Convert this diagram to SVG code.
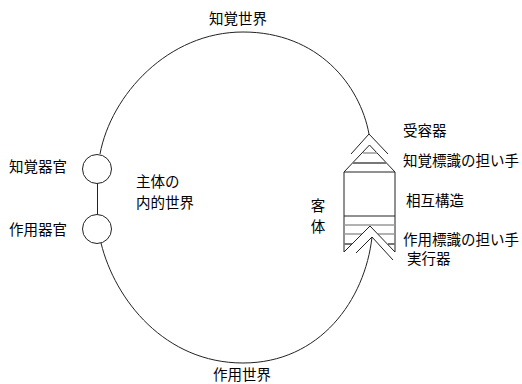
<svg xmlns="http://www.w3.org/2000/svg" width="522" height="384" viewBox="0 0 522 384">
<style>
text{font-family:"Noto Sans CJK JP","Noto Sans CJK SC",sans-serif;font-size:14.5px;fill:#000}
.ln{fill:none;stroke:#222;stroke-width:1}
.g1{fill:none;stroke:#999;stroke-width:1.5}
.g2{fill:none;stroke:#777;stroke-width:2}
</style>
<rect width="522" height="384" fill="#fff"/>
<g id="connectors">
<path class="ln" d="M100,154 C111,95 168,32 243,32 C318,32 360,85 369,134"/>
<path class="ln" d="M372,237 C365,300 320,363 243,363 C165,363 115,300 101,243"/>
<line class="ln" x1="97.5" y1="183.5" x2="97.5" y2="214.5"/>
</g>
<g id="perception-world"><text x="238" y="24" text-anchor="middle">知覚世界</text></g>
<g id="action-world"><text x="242" y="380" text-anchor="middle">作用世界</text></g>
<g id="perception-organ">
<circle class="ln" cx="97" cy="169" r="14.5"/>
<text x="9" y="172">知覚器官</text>
</g>
<g id="action-organ">
<circle class="ln" cx="97" cy="229" r="14.5"/>
<text x="9" y="235">作用器官</text>
</g>
<g id="subject-inner-world">
<text x="136" y="187">主体の<tspan x="136" y="208">内的世界</tspan></text>
</g>
<g id="object">
<text x="318" y="211" text-anchor="middle">客<tspan x="318" y="232">体</tspan></text>
<polyline class="ln" points="351,154 369,134 388,154"/>
<polyline class="ln" points="344,252 344,172 369.5,145 395,172 395,252"/>
<line class="ln" x1="344" y1="172" x2="395" y2="172"/>
<line class="g1" x1="363" y1="153" x2="377" y2="153"/>
<line class="g2" x1="353" y1="163" x2="386" y2="163"/>
<line class="ln" x1="344" y1="216" x2="395" y2="216" stroke="#444"/>
<line class="g1" x1="344" y1="225" x2="395" y2="225"/>
<line class="g1" x1="344" y1="234" x2="362" y2="234"/>
<line class="g1" x1="378" y1="234" x2="395" y2="234"/>
<line class="g2" x1="344" y1="244" x2="352" y2="244"/>
<line class="g2" x1="388" y1="244" x2="395" y2="244"/>
<polyline class="ln" points="344,252 370,226 395,252"/>
<polyline class="ln" points="356,253 372,237 393,260"/>
</g>
<g id="receptor"><text x="403" y="136">受容器</text></g>
<g id="perception-mark"><text x="403" y="166">知覚標識の担い手</text></g>
<g id="interaction"><text x="406" y="206">相互構造</text></g>
<g id="action-mark"><text x="403" y="245">作用標識の担い手</text></g>
<g id="effector"><text x="407" y="264">実行器</text></g>
</svg>
